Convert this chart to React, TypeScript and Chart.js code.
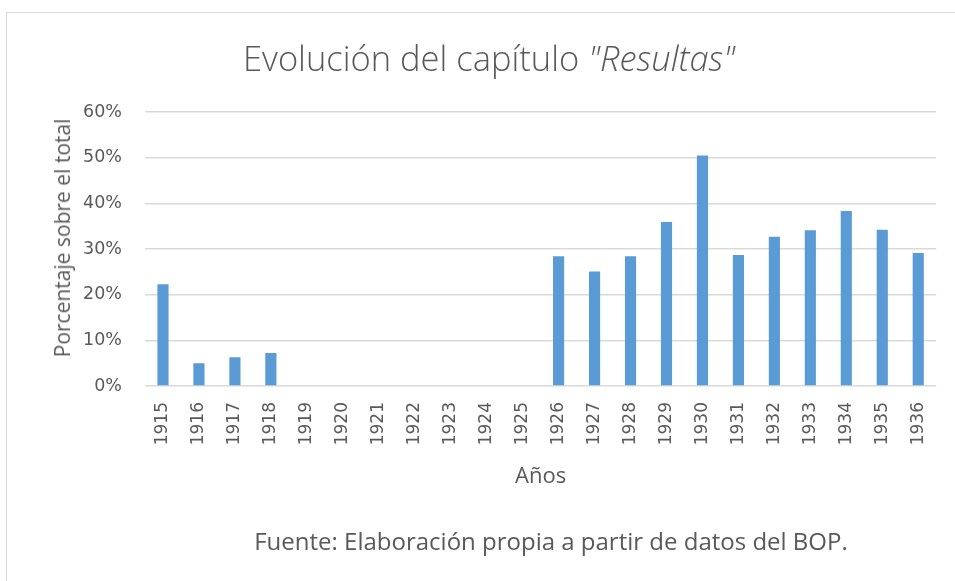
import React, { useEffect, useRef } from "react";
import { Chart, registerables } from "chart.js";

Chart.register(...registerables);

const years = [
  "1915", "1916", "1917", "1918", "1919", "1920", "1921", "1922", "1923", "1924", "1925",
  "1926", "1927", "1928", "1929", "1930", "1931", "1932", "1933", "1934", "1935", "1936",
];
const percentages = [
  22.3, 5.0, 6.3, 7.2, 0, 0, 0, 0, 0, 0, 0,
  28.4, 25.1, 28.4, 35.9, 50.5, 28.7, 32.7, 34.1, 38.3, 34.2, 29.1,
];
const yTicks = [0, 10, 20, 30, 40, 50, 60];

const titleMain = "Evolución del capítulo ";
const titleItalic = "\"Resultas\"";
const yTitle = "Porcentaje sobre el total";
const xTitle = "Años";
const sourceNote = "Fuente: Elaboración propia a partir de datos del BOP.";

const TEXT = "#595959";
const GRID = "#d9d9d9";
const BAR = "#5b9bd5";

export default function App() {
  const ref = useRef<HTMLCanvasElement | null>(null);

  useEffect(() => {
    if (!ref.current) return;
    const chart = new Chart(ref.current, {
      type: "bar",
      data: {
        labels: years,
        datasets: [
          {
            data: percentages,
            backgroundColor: BAR,
            borderWidth: 0,
            barPercentage: 0.31,
            categoryPercentage: 1,
          },
        ],
      },
      options: {
        animation: false,
        responsive: false,
        maintainAspectRatio: false,
        layout: { padding: { top: 112, right: 16, bottom: 0, left: 0 } },
        plugins: {
          legend: { display: false },
          tooltip: { enabled: false },
          title: { display: false },
        },
        scales: {
          x: {
            grid: { display: false, drawTicks: false },
            border: { display: false },
            ticks: {
              color: TEXT,
              font: { family: "DejaVu Sans", size: 17 },
              minRotation: 90,
              maxRotation: 90,
              padding: 16,
              autoSkip: false,
            },
            title: {
              display: true,
              text: xTitle,
              color: TEXT,
              font: { family: "Open Sans", size: 22 },
              padding: { top: 0, bottom: 91 },
            },
            afterFit: (s: any) => {
              s.height = 195;
            },
          },
          y: {
            min: 0,
            max: 60,
            afterBuildTicks: (s: any) => {
              s.ticks = yTicks.map((v) => ({ value: v }));
            },
            grid: { color: GRID, lineWidth: 1.5, drawTicks: false },
            border: { display: false },
            ticks: {
              color: TEXT,
              font: { family: "DejaVu Sans", size: 17.5 },
              padding: 23,
              callback: (v: any) => v + "%",
            },
            afterFit: (s: any) => {
              s.width = 145;
            },
          },
        },
      },
    });
    return () => chart.destroy();
  }, []);

  return (
    <div
      style={{
        position: "fixed",
        left: 0,
        top: 0,
        width: 955,
        height: 581,
        overflow: "hidden",
        background: "#fff",
      }}
    >
      <div
        style={{
          position: "absolute",
          left: 6,
          top: 12,
          width: 1000,
          height: 700,
          border: `1.5px solid ${GRID}`,
          boxSizing: "border-box",
        }}
      />
      <canvas
        ref={ref}
        width={955}
        height={581}
        style={{ position: "absolute", left: 0, top: 0, width: 955, height: 581 }}
      />
      <div
        style={{
          position: "absolute",
          left: 489,
          top: 38,
          transform: "translateX(-50%)",
          whiteSpace: "nowrap",
          fontFamily: "'Open Sans'",
          fontWeight: 300,
          fontSize: 34.5,
          lineHeight: "40px",
          color: TEXT,
        }}
      >
        {titleMain}
        <i>{titleItalic}</i>
      </div>
      <div
        style={{
          position: "absolute",
          left: 62,
          top: 238,
          transform: "translate(-50%, -50%) rotate(-90deg)",
          whiteSpace: "nowrap",
          fontFamily: "'Open Sans'",
          fontSize: 21,
          lineHeight: "26px",
          color: TEXT,
        }}
      >
        {yTitle}
      </div>
      <div
        style={{
          position: "absolute",
          left: 551,
          top: 526,
          transform: "translateX(-50%)",
          whiteSpace: "nowrap",
          fontFamily: "'Open Sans'",
          fontSize: 24,
          lineHeight: "30px",
          color: TEXT,
        }}
      >
        {sourceNote}
      </div>
    </div>
  );
}
